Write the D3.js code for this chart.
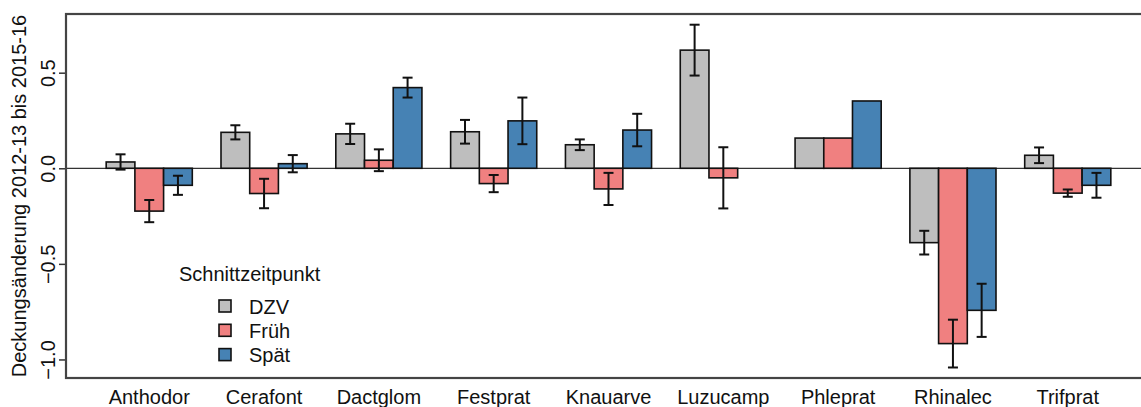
<!DOCTYPE html>
<html>
<head>
<meta charset="utf-8">
<script src="https://cdn.jsdelivr.net/npm/d3@7"></script>
<style>
  html, body { margin: 0; padding: 0; background: #fff; }
  svg { display: block; font-family: "Liberation Sans", Arial, sans-serif; }
</style>
</head>
<body>
<svg id="chart" width="1141" height="407"></svg>
<script>
// Species and cover change per mowing date (mean ± SE)
const categories = ["Anthodor", "Cerafont", "Dactglom", "Festprat", "Knauarve", "Luzucamp", "Phleprat", "Rhinalec", "Trifprat"];
const seriesNames = ["DZV", "Früh", "Spät"];
const dzv      = [0.033, 0.188, 0.180, 0.191, 0.123, 0.618, 0.158, -0.389, 0.068];
const dzvSe    = [0.040, 0.037, 0.053, 0.062, 0.028, 0.133, null, 0.062, 0.041];
const frueh    = [-0.224, -0.132, 0.042, -0.080, -0.108, -0.050, 0.158, -0.917, -0.130];
const fruehSe  = [0.058, 0.077, 0.057, 0.045, 0.084, 0.160, null, 0.125, 0.019];
const spaet    = [-0.089, 0.024, 0.422, 0.248, 0.200, null, 0.352, -0.743, -0.089];
const spaetSe  = [0.050, 0.045, 0.052, 0.122, 0.085, null, null, 0.139, 0.065];
const yTicks   = [-1.0, -0.5, 0.0, 0.5];
const colors   = ["#BEBEBE", "#F08080", "#4682B4"];

const values = [dzv, frueh, spaet];
const errors = [dzvSe, fruehSe, spaetSe];
const FS = 20;

const svg = d3.select("#chart");
const plot = { left: 66, top: 14, bottom: 378 };

// bar units: each group = 3 bars + 1 unit gap
const x = d3.scaleLinear().domain([-0.4, 37.4]).range([plot.left, 1151]);
const y = d3.scaleLinear().domain([-1.097, 0.807]).range([plot.bottom, plot.top]);

const bars = [];
categories.forEach((c, i) => {
  values.forEach((vals, s) => {
    if (vals[i] === null) return;
    bars.push({ cat: c, s, v: vals[i], se: errors[s][i], u: 1 + 4 * i + s });
  });
});

// zero line
svg.append("line")
  .attr("x1", plot.left).attr("x2", 1141)
  .attr("y1", y(0)).attr("y2", y(0))
  .attr("stroke", "#333").attr("stroke-width", 1.2);

// bars
svg.append("g").selectAll("rect").data(bars).join("rect")
  .attr("x", d => x(d.u))
  .attr("width", d => x(d.u + 1) - x(d.u))
  .attr("y", d => y(Math.max(0, d.v)))
  .attr("height", d => Math.abs(y(d.v) - y(0)))
  .attr("fill", d => colors[d.s])
  .attr("stroke", "#111").attr("stroke-width", 1.6);

// error bars
const eb = svg.append("g").attr("stroke", "#111").attr("stroke-width", 2);
bars.filter(d => d.se !== null).forEach(d => {
  const cx = x(d.u + 0.5);
  eb.append("line").attr("x1", cx).attr("x2", cx).attr("y1", y(d.v + d.se)).attr("y2", y(d.v - d.se));
  eb.append("line").attr("x1", cx - 5).attr("x2", cx + 5).attr("y1", y(d.v + d.se)).attr("y2", y(d.v + d.se));
  eb.append("line").attr("x1", cx - 5).attr("x2", cx + 5).attr("y1", y(d.v - d.se)).attr("y2", y(d.v - d.se));
});

// y axis
const yAxis = svg.append("g")
  .attr("transform", `translate(${plot.left},0)`)
  .call(d3.axisLeft(y).tickValues(yTicks).tickFormat(d3.format(".1f")).tickSize(7).tickPadding(0));
yAxis.select(".domain").remove();
yAxis.selectAll(".tick line").attr("stroke", "#333").attr("stroke-width", 1.5);
yAxis.selectAll(".tick text")
  .attr("x", null).attr("dy", null)
  .attr("transform", "translate(-11,0) rotate(-90)")
  .attr("text-anchor", "middle")
  .attr("font-size", FS).attr("fill", "#111")
  .attr("font-family", "Liberation Sans, Arial, sans-serif");

// box
svg.append("rect")
  .attr("x", plot.left).attr("y", plot.top)
  .attr("width", 1151 - plot.left).attr("height", plot.bottom - plot.top)
  .attr("fill", "none").attr("stroke", "#444").attr("stroke-width", 2.2);

// category labels
svg.append("g").selectAll("text").data(categories).join("text")
  .attr("x", (d, i) => x(2.5 + 4 * i))
  .attr("y", 404)
  .attr("text-anchor", "middle")
  .attr("font-size", FS).attr("fill", "#111")
  .text(d => d);

// y label
svg.append("text")
  .attr("transform", `translate(26,${(plot.top + plot.bottom) / 2}) rotate(-90)`)
  .attr("text-anchor", "middle")
  .attr("font-size", FS).attr("fill", "#111")
  .text("Deckungsänderung 2012-13 bis 2015-16");

// legend
const lg = svg.append("g");
lg.append("text").attr("x", 179).attr("y", 281).attr("font-size", FS).attr("fill", "#111").text("Schnittzeitpunkt");
seriesNames.forEach((n, i) => {
  const yy = 300 + i * 24.3;
  lg.append("rect").attr("x", 219).attr("y", yy).attr("width", 12).attr("height", 12)
    .attr("fill", colors[i]).attr("stroke", "#111").attr("stroke-width", 1.6);
  lg.append("text").attr("x", 249).attr("y", yy + 13.5).attr("font-size", FS).attr("fill", "#111").text(n);
});
</script>
</body>
</html>
